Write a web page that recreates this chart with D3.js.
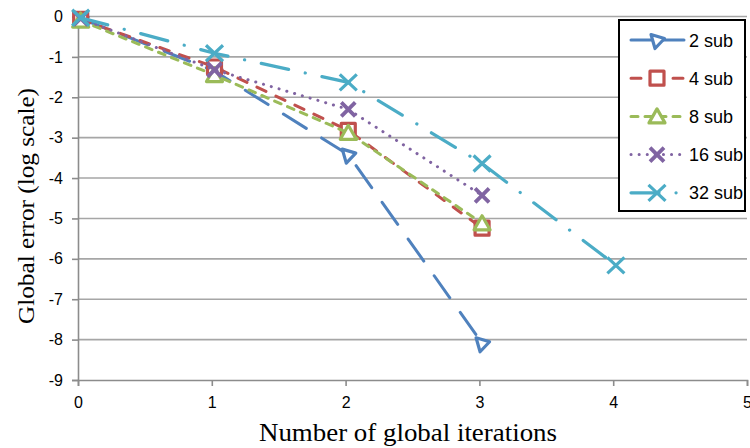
<!DOCTYPE html>
<html><head><meta charset="utf-8">
<script src="https://cdn.jsdelivr.net/npm/d3@7"></script>
<style>html,body{margin:0;padding:0;background:#fff;}svg{display:block;}</style>
</head><body>
<script>
// ---- data ----
const xTicks = [0, 1, 2, 3, 4, 5];
const yTicks = [0, -1, -2, -3, -4, -5, -6, -7, -8, -9];
const seriesNames = ["2 sub", "4 sub", "8 sub", "16 sub", "32 sub"];
const xs2  = [0.02, 1.02, 2.02, 3.02];
const ys2  = [-0.05, -1.35, -3.42, -8.09];
const xs4  = [0.02, 1.02, 2.02, 3.02];
const ys4  = [-0.07, -1.25, -2.82, -5.24];
const xs8  = [0.02, 1.02, 2.02, 3.02];
const ys8  = [-0.1, -1.45, -2.88, -5.12];
const xs16 = [0.02, 1.02, 2.02, 3.02];
const ys16 = [-0.05, -1.32, -2.3, -4.43];
const xs32 = [0.02, 1.02, 2.02, 3.02, 4.02];
const ys32 = [-0.03, -0.91, -1.63, -3.64, -6.16];
const xTitle = "Number of global iterations";
const yTitle = "Global error (log scale)";

const W = 750, H = 448;
const svg = d3.select("body").append("svg").attr("width", W).attr("height", H);
const x = d3.scaleLinear().domain([0, 5]).range([78, 747]);
const y = d3.scaleLinear().domain([-9, 0]).range([380, 16.5]);

const sans = "'Liberation Sans', Arial, sans-serif";
const serif = "'Liberation Serif', 'DejaVu Serif', serif";
const fmt = d => String(d);

// gridlines
svg.append("g").selectAll("line").data(yTicks.filter(d => d > -9)).join("line")
  .attr("x1", x(0)).attr("x2", x(5)).attr("y1", d => y(d)).attr("y2", d => y(d))
  .attr("stroke", "#a6a6a6").attr("stroke-width", 1.6);

// axes
const yAxis = svg.append("g").attr("transform", `translate(${x(0)},0)`)
  .call(d3.axisLeft(y).tickValues(yTicks).tickSize(6).tickPadding(9).tickFormat(fmt));
const xAxis = svg.append("g").attr("transform", `translate(0,${y(-9)})`)
  .call(d3.axisBottom(x).tickValues(xTicks).tickSize(6).tickPadding(11).tickFormat(fmt));
[yAxis, xAxis].forEach(g => {
  g.select(".domain").attr("stroke", "#8c8c8c").attr("stroke-width", 1.6);
  g.selectAll(".tick line").attr("stroke", "#8c8c8c").attr("stroke-width", 1.6);
  g.selectAll(".tick text").attr("font-family", sans).attr("font-size", 16).attr("fill", "#000");
});

// titles
svg.append("text").attr("x", 408).attr("y", 441).attr("text-anchor", "middle")
  .attr("font-family", serif).attr("font-size", 25)
  .attr("textLength", 298).attr("lengthAdjust", "spacingAndGlyphs").text(xTitle);
svg.append("text").attr("transform", `translate(34,${206}) rotate(-90)`).attr("text-anchor", "middle")
  .attr("font-family", serif).attr("font-size", 24)
  .attr("textLength", 236).attr("lengthAdjust", "spacingAndGlyphs").text(yTitle);

// series definitions
const colors = ["#4f81bd", "#c0504d", "#9bbb59", "#8064a2", "#4bacc6"];
const dashes = ["27,18", "10,11", "7,7", "0.1,8", "28,17,0.1,17"];
const widths = [3, 3, 3, 3, 3.2];
const markers = ["kite", "square", "triangle", "x", "x2"];
const data = [[xs2, ys2], [xs4, ys4], [xs8, ys8], [xs16, ys16], [xs32, ys32]];

function markerPath(type) {
  switch (type) {
    case "kite": return "M-6,-5.5L7.5,-1.5L-2,8.5Z";
    case "square": return "M-7,-7H7V7H-7Z";
    case "triangle": return "M0,-7.5L8,6.5H-8Z";
    case "x": return "M-7,-7L7,7M7,-7L-7,7";
    case "x2": return "M-8.5,-8L8.5,8M8.5,-8L-8.5,8";
  }
}
function drawMarker(g, type, color, cx, cy) {
  g.append("path").attr("d", markerPath(type)).attr("transform", `translate(${cx},${cy})`)
    .attr("fill", type.startsWith("x") ? "none" : "#fff")
    .attr("stroke", color).attr("stroke-width", type === "x" ? 3.8 : 3.2)
    .attr("stroke-linejoin", "round");
}

const line = d3.line().x(d => x(d[0])).y(d => y(d[1]));
data.forEach(([xs, ys], i) => {
  const pts = xs.map((v, j) => [v, ys[j]]);
  const g = svg.append("g");
  g.append("path").attr("d", line(pts)).attr("fill", "none")
    .attr("stroke", colors[i]).attr("stroke-width", widths[i])
    .attr("stroke-dasharray", dashes[i]).attr("stroke-linecap", "round");
  pts.forEach(p => drawMarker(g, markers[i], colors[i], x(p[0]), y(p[1])));
});

// legend
const lg = svg.append("g");
lg.append("rect").attr("x", 619).attr("y", 20).attr("width", 126).attr("height", 191)
  .attr("fill", "#fff").attr("stroke", "#000").attr("stroke-width", 2);
seriesNames.forEach((name, i) => {
  const ly = 40 + i * 38.2;
  lg.append("line").attr("x1", 631).attr("x2", 684).attr("y1", ly).attr("y2", ly)
    .attr("stroke", colors[i]).attr("stroke-width", widths[i])
    .attr("stroke-dasharray", i === 0 ? null : dashes[i]).attr("stroke-linecap", "round");
  drawMarker(lg, markers[i], colors[i], 657, ly);
  lg.append("text").attr("x", 689).attr("y", ly + 6.5).attr("font-family", sans)
    .attr("font-size", 18).text(name);
});
</script>
</body></html>
